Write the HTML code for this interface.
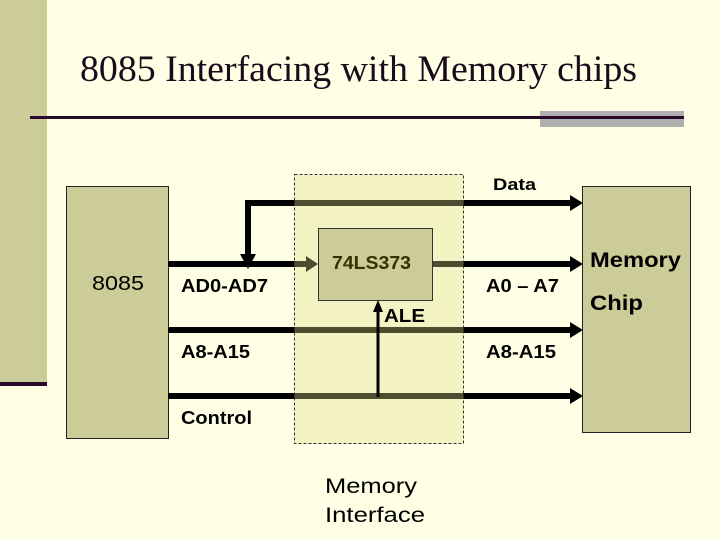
<!DOCTYPE html>
<html><head><style>
html,body{margin:0;padding:0;}
body{width:720px;height:540px;background:#ffffe5;position:relative;overflow:hidden;font-family:"Liberation Sans",Arial,sans-serif;}
</style></head><body>
<svg width="720" height="540" viewBox="0 0 720 540" xmlns="http://www.w3.org/2000/svg" style="position:absolute;left:0;top:0">
<rect x="0" y="0" width="47" height="383" fill="#cccc99"/>
<rect x="0" y="382" width="47" height="4" fill="#2a0a2a"/>
<rect x="540" y="111" width="144" height="16" fill="#b0b0b0"/>
<rect x="30" y="116" width="654" height="3" fill="#2a0a2a"/>
<text x="80" y="81" font-family="Liberation Serif, serif" font-size="37" fill="#1a0a1a" textLength="557" lengthAdjust="spacingAndGlyphs">8085 Interfacing with Memory chips</text>

<rect x="66.5" y="186.5" width="102" height="252" fill="#cccc99" stroke="#222" stroke-width="1"/>
<rect x="582.5" y="186.5" width="108" height="246" fill="#cccc99" stroke="#222" stroke-width="1"/>

<g stroke="#000" stroke-width="6" fill="none">
<path d="M168 264 H306"/>
<path d="M432 264 H570"/>
<path d="M168 330 H570"/>
<path d="M168 396 H570"/>
<path d="M248 256 V203 H570"/>
</g>
<g fill="#000">
<polygon points="570,195 583,203 570,211"/>
<polygon points="570,256 583,264 570,272"/>
<polygon points="570,322 583,330 570,338"/>
<polygon points="570,388 583,396 570,404"/>
<polygon points="240,254 256,254 248,269"/>
<polygon points="306,256 318,264 306,272"/>
</g>
<rect x="294.5" y="174.5" width="169" height="269" fill="#dddd88" fill-opacity="0.35" stroke="#333" stroke-width="1" stroke-dasharray="3,2"/>
<rect x="318.5" y="228.5" width="114" height="72" fill="#cccc99" stroke="#333" stroke-width="1"/>
<path d="M378 397 V310" stroke="#000" stroke-width="3"/>
<polygon points="373,312 383,312 378,300" fill="#000"/>

<g font-weight="bold" font-size="18" fill="#000" lengthAdjust="spacingAndGlyphs">
<text x="493" y="190" font-size="17" textLength="43" lengthAdjust="spacingAndGlyphs">Data</text>
<text x="332" y="269" fill="#333300" textLength="79" lengthAdjust="spacingAndGlyphs">74LS373</text>
<text x="92" y="290" font-weight="normal" font-size="20" textLength="52" lengthAdjust="spacingAndGlyphs">8085</text>
<text x="181" y="292" textLength="87" lengthAdjust="spacingAndGlyphs">AD0-AD7</text>
<text x="486" y="292" textLength="73" lengthAdjust="spacingAndGlyphs">A0 – A7</text>
<text x="384" y="322" textLength="41" lengthAdjust="spacingAndGlyphs">ALE</text>
<text x="181" y="358" textLength="69" lengthAdjust="spacingAndGlyphs">A8-A15</text>
<text x="486" y="358" textLength="70" lengthAdjust="spacingAndGlyphs">A8-A15</text>
<text x="181" y="424" textLength="71" lengthAdjust="spacingAndGlyphs">Control</text>
<text x="590" y="267" font-size="21" textLength="91" lengthAdjust="spacingAndGlyphs">Memory</text>
<text x="590" y="310" font-size="21" textLength="53" lengthAdjust="spacingAndGlyphs">Chip</text>
<text x="325" y="493" font-weight="normal" font-size="21" textLength="92" lengthAdjust="spacingAndGlyphs">Memory</text>
<text x="325" y="522" font-weight="normal" font-size="21" textLength="100" lengthAdjust="spacingAndGlyphs">Interface</text>
</g>
</svg>
</body></html>
